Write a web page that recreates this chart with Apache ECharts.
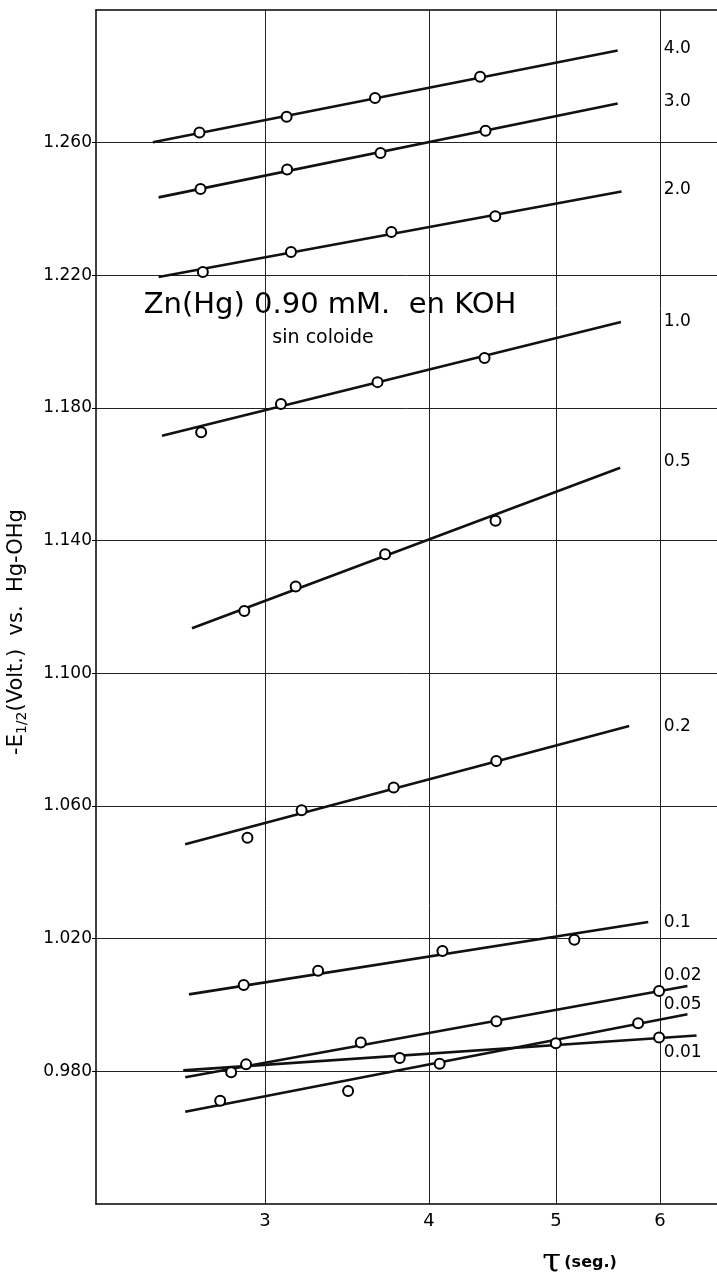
<!DOCTYPE html>
<html>
<head>
<meta charset="utf-8">
<script src="https://cdn.jsdelivr.net/npm/echarts@6/dist/echarts.min.js"></script>
<style>
  html, body { margin: 0; padding: 0; background: #fff; }
  #chart { width: 717px; height: 1278px; }
</style>
</head>
<body>
<div id="chart"></div>
<script>
// Concentration of each curve (KOH, M)
const concLabels = ['4.0', '3.0', '2.0', '1.0', '0.5', '0.2', '0.1', '0.02', '0.05', '0.01'];

// Fitted straight lines: start / end (tau in s, -E1/2 in V)
const fitStartTau = [2.464, 2.489, 2.489, 2.504, 2.639, 2.608, 2.625, 2.608, 2.608, 2.599];
const fitStartE   = [1.2601, 1.2435, 1.2195, 1.1716, 1.1136, 1.0485, 1.0032, 0.9782, 0.9678, 0.9803];
const fitEndTau   = [5.571, 5.571, 5.609, 5.603, 5.596, 5.685, 5.878, 6.297, 6.297, 6.398];
const fitEndE     = [1.2878, 1.2718, 1.2453, 1.2059, 1.1620, 1.0841, 1.0250, 1.0057, 0.9972, 0.9908];

// Measured points
const pointTau = [
  [2.674, 3.116, 3.639, 4.376],
  [2.679, 3.119, 3.674, 4.418],
  [2.690, 3.140, 3.745, 4.494],
  [2.682, 3.085, 3.655, 4.410],
  [2.893, 3.166, 3.704, 4.496],
  [2.909, 3.199, 3.760, 4.502],
  [2.890, 3.293, 4.096, 5.163],
  [2.902, 3.549, 4.503, 5.991],
  [2.773, 3.471, 4.076, 5.775],
  [2.827, 3.800, 4.998, 5.991]
];
const pointE = [
  [1.2631, 1.2678, 1.2735, 1.2799],
  [1.2460, 1.2519, 1.2569, 1.2636],
  [1.2210, 1.2270, 1.2331, 1.2378],
  [1.1727, 1.1812, 1.1878, 1.1951],
  [1.1188, 1.1262, 1.1359, 1.1460],
  [1.0504, 1.0587, 1.0656, 1.0736],
  [1.0060, 1.0103, 1.0163, 1.0197],
  [0.9821, 0.9887, 0.9951, 1.0042],
  [0.9711, 0.9741, 0.9823, 0.9945],
  [0.9797, 0.9840, 0.9885, 0.9902]
];

// Where the curve labels sit (value of -E1/2 at the label)
const labelTau = 6.02;
const labelE = [1.2884, 1.2724, 1.2458, 1.2060, 1.1638, 1.0838, 1.0250, 1.0090, 1.0000, 0.9858];

// Tick labels
const xTicks = [3, 4, 5, 6];
const yTicks = [0.98, 1.02, 1.06, 1.10, 1.14, 1.18, 1.22, 1.26];

const X_MIN = 2.23, X_MAX = 6.632, Y_MIN = 0.94, Y_MAX = 1.30;
const FONT = 'DejaVu Sans';
const series = [];
for (let i = 0; i < concLabels.length; i++) {
  series.push({
    type: 'line',
    data: [[fitStartTau[i], fitStartE[i]], [fitEndTau[i], fitEndE[i]]],
    showSymbol: false,
    symbol: 'none',
    lineStyle: { color: '#111', width: 2.6 },
    silent: true,
    z: 2,
    markPoint: {
      symbol: 'circle',
      symbolSize: 0,
      silent: true,
      data: [{ coord: [labelTau, labelE[i]] }],
      label: {
        show: true,
        position: 'right',
        distance: 2,
        formatter: concLabels[i],
        color: '#000',
        fontSize: 17,
        fontFamily: FONT
      }
    }
  });
  series.push({
    type: 'scatter',
    data: pointTau[i].map((t, j) => [t, pointE[i][j]]),
    symbol: 'circle',
    symbolSize: 10,
    itemStyle: { color: '#fff', borderColor: '#000', borderWidth: 2, opacity: 1 },
    z: 3
  });
}

const chart = echarts.init(document.getElementById('chart'), null, { renderer: 'canvas' });
chart.setOption({
  animation: false,
  backgroundColor: '#fff',
  grid: { left: 96, right: 0, top: 10, bottom: 74, outerBoundsMode: 'none', containLabel: false },
  xAxis: [{
    type: 'log',
    logBase: 10,
    min: X_MIN,
    max: X_MAX,
    name: '{t|τ} {s|(seg.)}',
    nameLocation: 'middle',
    nameGap: 42,
    nameTextStyle: {
      padding: [0, 0, 0, 346],
      rich: {
        t: { fontSize: 34, fontFamily: 'DejaVu Serif', color: '#000' },
        s: { fontSize: 16, fontWeight: 'bold', fontFamily: FONT, color: '#000' }
      }
    },
    axisLine: { show: true, lineStyle: { color: '#000', width: 1.5 } },
    axisTick: { show: false, customValues: xTicks },
    axisLabel: {
      customValues: xTicks,
      formatter: v => String(Math.round(v)),
      color: '#000', fontSize: 18, fontFamily: FONT, margin: 8
    },
    splitLine: { show: true, lineStyle: { color: '#222', width: 1 } }
  }, {
    type: 'log',
    logBase: 10,
    position: 'top',
    min: X_MIN,
    max: X_MAX,
    axisLine: { show: true, lineStyle: { color: '#000', width: 1.5 } },
    axisTick: { show: false },
    axisLabel: { show: false },
    splitLine: { show: false }
  }],
  yAxis: {
    type: 'value',
    min: Y_MIN,
    max: Y_MAX,
    name: '-E{sub|1/2}(Volt.)  vs.  Hg-OHg',
    nameLocation: 'middle',
    nameGap: 67,
    nameTextStyle: {
      color: '#000', fontSize: 21, fontFamily: FONT,
      padding: [0, 50, 0, 0],
      rich: {
        sub: { fontSize: 14, fontFamily: FONT, color: '#000', padding: [10, 0, 0, 0], verticalAlign: 'bottom' }
      }
    },
    axisLine: { show: true, lineStyle: { color: '#000', width: 1.5 } },
    axisTick: { show: true, customValues: yTicks, length: 4, lineStyle: { color: '#000' } },
    axisLabel: {
      customValues: yTicks,
      formatter: v => v.toFixed(3),
      color: '#000', fontSize: 17, fontFamily: FONT, margin: 4
    },
    splitLine: { show: true, lineStyle: { color: '#222', width: 1 } }
  },
  graphic: [
    {
      type: 'text', x: 330, y: 305, silent: true,
      style: { text: 'Zn(Hg) 0.90 mM.  en KOH', fill: '#000', font: '29px "DejaVu Sans"', align: 'center', verticalAlign: 'middle' }
    },
    {
      type: 'text', x: 323, y: 338, silent: true,
      style: { text: 'sin coloide', fill: '#000', font: '19px "DejaVu Sans"', align: 'center', verticalAlign: 'middle' }
    }
  ],
  series: series
});
</script>
</body>
</html>
